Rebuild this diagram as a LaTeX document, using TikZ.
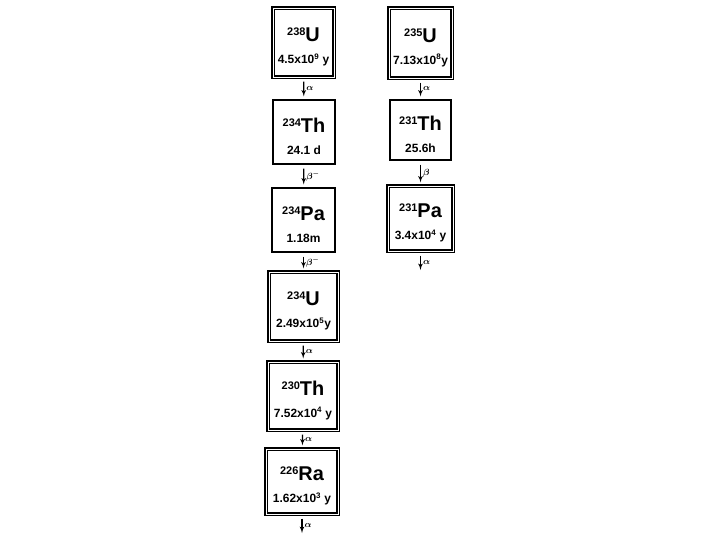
\documentclass[tikz,border=0pt]{standalone}
\usepackage{fontspec}
\setmainfont{Liberation Sans}
\usetikzlibrary{arrows}

\tikzset{
	box/.style={draw, line width=1.1pt, align=center, inner sep=0pt, font=\bfseries},
	dbox/.style={box, double, line width=1.1pt, double distance=0.9pt},
	decay/.style={auto, inner sep=2pt, font=\fontsize{9}{9}\selectfont\boldmath},
}
\newcommand{\iso}[3]{\rule{0pt}{23bp}{\fontsize{11}{11}\selectfont\raisebox{6bp}{#1}}{\fontsize{20}{20}\selectfont #2}\\[10bp]{\fontsize{12}{12}\selectfont #3}}

\begin{document}
\begin{tikzpicture}[>=latex', every edge/.style={draw, ->, line width=1.2pt}, shorten <=4bp, shorten >=3bp]
	\useasboundingbox (0bp,0bp) rectangle (720bp,-540bp);

	% uranium series
	\node[dbox, minimum width=61bp, minimum height=69bp] (U238)  at (303.5bp,-42.5bp) {\iso{238}{U}{4.5x10\textsuperscript{9} y}};
	\node[box,  minimum width=62bp, minimum height=64bp] (Th234) at (304bp,-132bp)   {\iso{234}{Th}{24.1 d}};
	\node[box,  minimum width=63bp, minimum height=64bp] (Pa234) at (303.5bp,-220bp) {\iso{234}{Pa}{1.18m}};
	\node[dbox, minimum width=69bp, minimum height=69bp] (U234)  at (303.5bp,-306.5bp) {\iso{234}{U}{2.49x10\textsuperscript{5}y}};
	\node[dbox, minimum width=70bp, minimum height=68bp] (Th230) at (303bp,-396bp)   {\iso{230}{Th}{7.52x10\textsuperscript{4} y}};
	\node[dbox, minimum width=72bp, minimum height=65bp] (Ra226) at (302bp,-481.5bp) {\iso{226}{Ra}{1.62x10\textsuperscript{3} y}};
	\coordinate (Uend) at (302bp,-536bp);

	% actinium series
	\node[dbox, minimum width=63bp, minimum height=70bp] (U235)  at (420.5bp,-43bp)   {\iso{235}{U}{7.13x10\textsuperscript{8}y}};
	\node[box,  minimum width=61bp, minimum height=60bp] (Th231) at (420.5bp,-130bp)  {\iso{231}{Th}{25.6h}};
	\node[dbox, minimum width=65bp, minimum height=65bp] (Pa231) at (420.5bp,-218.5bp) {\iso{231}{Pa}{3.4x10\textsuperscript{4} y}};
	\coordinate (Aend) at (420.5bp,-273bp);

	\path (U238)  edge node[decay] {$\alpha$} (Th234)
	      (Th234) edge node[decay] {$\beta^-$} (Pa234)
	      (Pa234) edge node[decay] {$\beta^-$} (U234)
	      (U234)  edge node[decay] {$\alpha$} (Th230)
	      (Th230) edge node[decay] {$\alpha$} (Ra226)
	      (Ra226) edge node[decay] {$\alpha$} (Uend);
	\path (U235)  edge node[decay] {$\alpha$} (Th231)
	      (Th231) edge node[decay] {$\beta$} (Pa231)
	      (Pa231) edge node[decay] {$\alpha$} (Aend);
\end{tikzpicture}
\end{document}
